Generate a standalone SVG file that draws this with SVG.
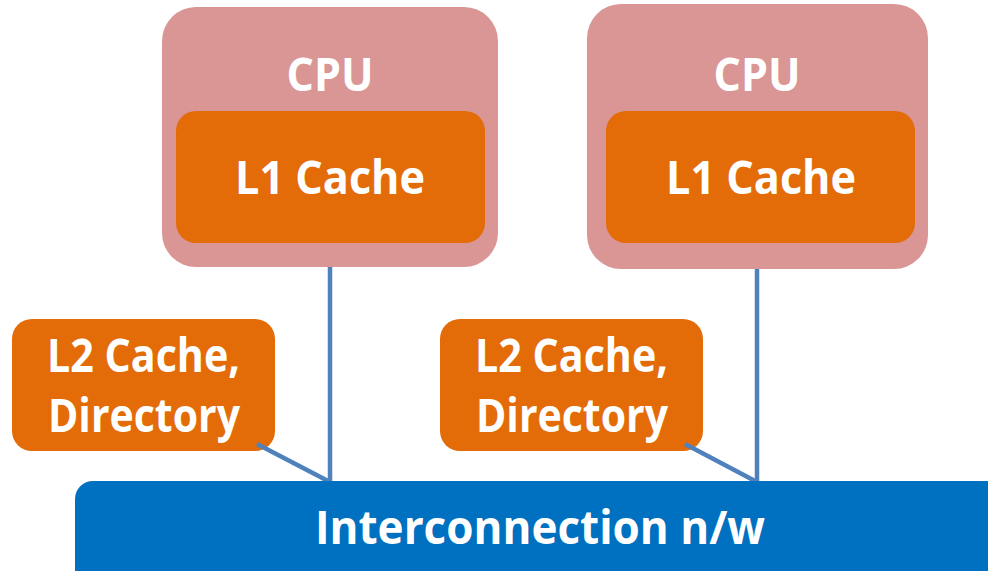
<svg xmlns="http://www.w3.org/2000/svg" width="988" height="571" viewBox="0 0 988 571">
<style>
.cpu{fill:#d99694}
.cache{fill:#e36c09}
.bus{fill:#0070c0}
.t{font-family:"Open Sans","Liberation Sans",sans-serif;font-weight:bold;font-size:47px;fill:#ffffff;text-anchor:middle}
.ln{stroke:#4f81bd;stroke-width:4.5;fill:none}
</style>
<rect width="988" height="571" fill="#ffffff"/>
<g id="cpu1">
<rect class="cpu" x="162" y="7" width="336" height="260" rx="34"/>
<text class="t" x="330" y="91" textLength="87" lengthAdjust="spacingAndGlyphs">CPU</text>
</g>
<g id="l1-1">
<rect class="cache" x="176" y="111" width="309" height="132" rx="20"/>
<text class="t" x="330" y="194" textLength="190" lengthAdjust="spacingAndGlyphs">L1 Cache</text>
</g>
<g id="cpu2">
<rect class="cpu" x="587" y="4" width="341" height="265" rx="34"/>
<text class="t" x="757" y="91" textLength="87" lengthAdjust="spacingAndGlyphs">CPU</text>
</g>
<g id="l1-2">
<rect class="cache" x="606" y="111" width="309" height="132" rx="20"/>
<text class="t" x="761" y="194" textLength="190" lengthAdjust="spacingAndGlyphs">L1 Cache</text>
</g>
<g id="l2-1">
<rect class="cache" x="12" y="319" width="263" height="132" rx="20"/>
<text class="t" x="143.5" y="372" textLength="193" lengthAdjust="spacingAndGlyphs">L2 Cache,</text>
<text class="t" x="144" y="432" textLength="192" lengthAdjust="spacingAndGlyphs">Directory</text>
</g>
<g id="l2-2">
<rect class="cache" x="440" y="319" width="263" height="132" rx="20"/>
<text class="t" x="571.5" y="372" textLength="193" lengthAdjust="spacingAndGlyphs">L2 Cache,</text>
<text class="t" x="572" y="432" textLength="192" lengthAdjust="spacingAndGlyphs">Directory</text>
</g>
<g id="connectors">
<line class="ln" x1="330" y1="267" x2="330" y2="483"/>
<line class="ln" x1="757" y1="269" x2="757" y2="483"/>
<line class="ln" x1="257" y1="444" x2="330" y2="482"/>
<line class="ln" x1="685" y1="444" x2="757" y2="482"/>
</g>
<g id="interconnect">
<rect class="bus" x="75" y="481" width="960" height="120" rx="18"/>
<text class="t" x="540" y="544" textLength="450" lengthAdjust="spacingAndGlyphs">Interconnection n/w</text>
</g>
</svg>
